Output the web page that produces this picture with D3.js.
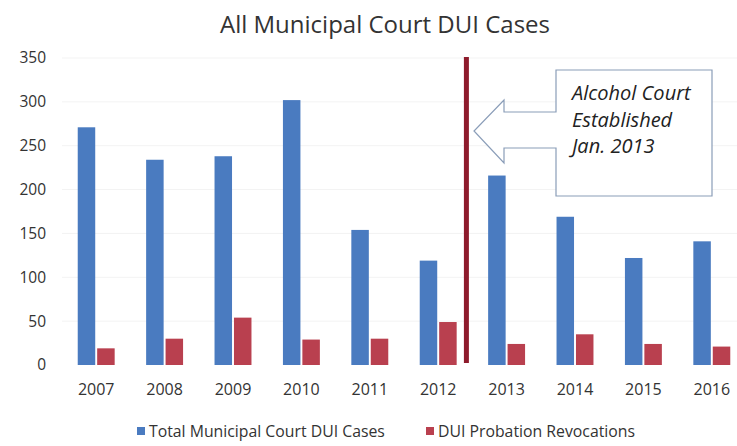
<!DOCTYPE html>
<html>
<head>
<meta charset="utf-8">
<script src="https://cdn.jsdelivr.net/npm/d3@7"></script>
<style>
  html, body { margin: 0; padding: 0; background: #fff; }
  svg { display: block; font-family: "Open Sans", "DejaVu Sans", sans-serif; }
</style>
</head>
<body>
<svg id="chart" width="737" height="446"></svg>
<script>
// ---- data ----
const years = ["2007","2008","2009","2010","2011","2012","2013","2014","2015","2016"];
const totalCases = [271, 234, 238, 302, 154, 119, 216, 169, 122, 141];
const revocations = [19, 30, 54, 29, 30, 49, 24, 35, 24, 21];
const seriesNames = ["Total Municipal Court DUI Cases", "DUI Probation Revocations"];
const seriesColors = ["#4a7bc0", "#b9404f"];
const yTicks = [0, 50, 100, 150, 200, 250, 300, 350];
const titleText = "All Municipal Court DUI Cases";
const calloutLines = ["Alcohol Court", "Established", "Jan. 2013"];
const markerYear = "2013";

const svg = d3.select("#chart");

const x0 = d3.scaleBand().domain(years).range([62, 746]).paddingInner(0.46).paddingOuter(0.23);
const x1 = d3.scaleBand().domain([0, 1]).range([0, x0.bandwidth()]).paddingInner(0.1);
const y = d3.scaleLinear().domain([0, 350]).range([365, 58]);

// gridlines (very faint)
svg.append("g").selectAll("line").data(yTicks.slice(1)).join("line")
  .attr("x1", 62).attr("x2", 737)
  .attr("y1", d => y(d)).attr("y2", d => y(d))
  .attr("stroke", "#f3f3f3").attr("stroke-width", 1);

// title
svg.append("text").attr("x", 385).attr("y", 33).attr("text-anchor", "middle")
  .attr("font-size", 24).attr("fill", "#333").text(titleText);

// y axis
const yAxis = d3.axisLeft(y).tickValues(yTicks).tickSize(0).tickPadding(0);
const gy = svg.append("g").attr("transform", "translate(46,0)").call(yAxis);
gy.select(".domain").remove();
gy.selectAll("text").attr("font-size", 15.5).attr("fill", "#333")
  .attr("font-family", "'Open Sans', sans-serif");

// x axis
const xAxis = d3.axisBottom(x0).tickSize(0).tickPadding(0);
const gx = svg.append("g").attr("transform", "translate(0,384)").call(xAxis);
gx.select(".domain").remove();
gx.selectAll("text").attr("font-size", 16).attr("fill", "#333")
  .attr("font-family", "'Open Sans', sans-serif");

// bars
const groups = svg.append("g").selectAll("g").data(years).join("g")
  .attr("transform", d => `translate(${x0(d)},0)`);
groups.selectAll("rect").data((d, i) => [totalCases[i], revocations[i]]).join("rect")
  .attr("x", (d, j) => x1(j))
  .attr("width", x1.bandwidth())
  .attr("y", d => y(d))
  .attr("height", d => y(0) - y(d))
  .attr("fill", (d, j) => seriesColors[j]);

// vertical marker line between 2012 and 2013
const lineX = x0(markerYear) - x0.step() * x0.paddingInner() / 2 - 6;
svg.append("line").attr("x1", lineX).attr("x2", lineX)
  .attr("y1", y(350) - 1).attr("y2", 363)
  .attr("stroke", "#8e1b2c").attr("stroke-width", 5);

// callout (left arrow shape)
const bx0 = 556, bx1 = 712, by0 = 70, by1 = 196;
const tipX = 474, tipY = 131, headX = 504, headTop = 100, headBot = 163, shaftTop = 112, shaftBot = 148;
const path = d3.path();
path.moveTo(bx0, by0); path.lineTo(bx1, by0); path.lineTo(bx1, by1); path.lineTo(bx0, by1);
path.lineTo(bx0, shaftBot); path.lineTo(headX, shaftBot); path.lineTo(headX, headBot);
path.lineTo(tipX, tipY); path.lineTo(headX, headTop); path.lineTo(headX, shaftTop);
path.lineTo(bx0, shaftTop); path.closePath();
svg.append("path").attr("d", path.toString()).attr("fill", "#fff")
  .attr("stroke", "#8a9db8").attr("stroke-width", 1.2);
svg.append("g").selectAll("text").data(calloutLines).join("text")
  .attr("x", 572).attr("y", (d, i) => 100 + i * 26.5)
  .attr("font-size", 20).attr("font-style", "italic").attr("fill", "#222")
  .text(d => d);

// legend
const legend = [{x: 137, name: seriesNames[0], color: seriesColors[0]},
                {x: 426, name: seriesNames[1], color: seriesColors[1]}];
const lg = svg.append("g").selectAll("g").data(legend).join("g")
  .attr("transform", d => `translate(${d.x},0)`);
lg.append("rect").attr("x", 0).attr("y", 427).attr("width", 8).attr("height", 8)
  .attr("fill", d => d.color);
lg.append("text").attr("x", 12).attr("y", 437).attr("font-size", 15.8).attr("fill", "#333")
  .text(d => d.name);
</script>
</body>
</html>
